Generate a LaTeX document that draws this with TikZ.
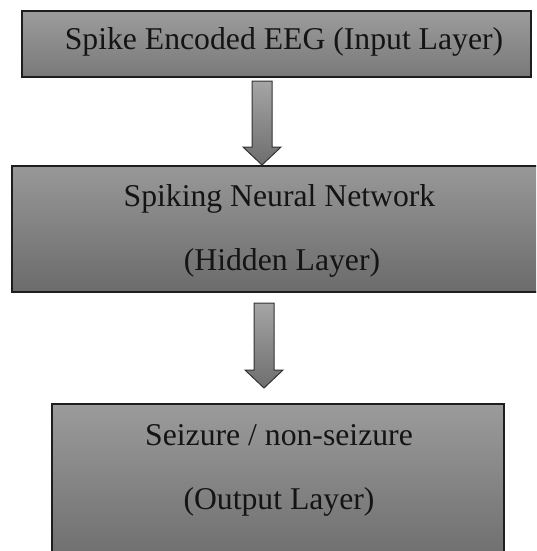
\documentclass[tikz,border=0pt]{standalone}
\usepackage{fontspec}
\setmainfont{Liberation Serif}
\usetikzlibrary{calc}
\definecolor{edge}{RGB}{30,30,30}
\definecolor{gA}{RGB}{156,156,156}
\definecolor{gB}{RGB}{121,121,121}
\definecolor{gC}{RGB}{152,152,152}
\definecolor{gD}{RGB}{107,107,107}
\definecolor{gE}{RGB}{155,155,155}
\definecolor{gF}{RGB}{112,112,112}
\definecolor{arT}{RGB}{165,165,165}
\definecolor{arB}{RGB}{110,110,110}
\begin{document}
\begin{tikzpicture}[x=1pt,y=-1pt,
  box/.style={draw=edge, line width=1.2pt, inner sep=0pt, shading=axis},
  lbl/.style={font=\fontsize{31.7}{64}\selectfont, align=center, inner sep=0pt, text=black!92},
  blockarrow/.style={draw=black!80, line width=1pt, top color=arT, bottom color=arB, line join=miter}]
\useasboundingbox (0,0) rectangle (536,551);
\clip (0,0) rectangle (536,551);
% boxes
\node[box, top color=gA, bottom color=gB, minimum width=509pt, minimum height=66pt] (inbox) at (276.5,44) {};
\node[box, top color=gC, bottom color=gD, minimum width=528pt, minimum height=126pt] (hidbox) at (276,229) {};
\node[box, top color=gE, bottom color=gF, minimum width=452pt, minimum height=149pt] (outbox) at (278,478.5) {};
% texts
\node[lbl, anchor=base] (inT) at (284,50) {Spike Encoded EEG (Input Layer)};
\node[lbl, anchor=base] (hidT1) at (279.5,206) {Spiking Neural Network};
\node[lbl, anchor=base] (hidT2) at (282,270) {(Hidden Layer)};
\node[lbl, anchor=base] (outT1) at (279,445) {Seizure / non-seizure};
\node[lbl, anchor=base] (outT2) at (279,509) {(Output Layer)};
% block arrows
\coordinate (a1s) at (262,81);
\coordinate (a1e) at (262,165);
\coordinate (a2s) at (264,303);
\coordinate (a2e) at (264,388);
\draw[blockarrow] ($(a1s)+(-10,0)$) -- ($(a1s)+(10,0)$) -- ($(a1e)+(10,-18)$) -- ($(a1e)+(19,-18)$) -- (a1e) -- ($(a1e)+(-19,-18)$) -- ($(a1e)+(-10,-18)$) -- cycle;
\draw[blockarrow] ($(a2s)+(-10,0)$) -- ($(a2s)+(10,0)$) -- ($(a2e)+(10,-18)$) -- ($(a2e)+(19,-18)$) -- (a2e) -- ($(a2e)+(-19,-18)$) -- ($(a2e)+(-10,-18)$) -- cycle;
\end{tikzpicture}
\end{document}
